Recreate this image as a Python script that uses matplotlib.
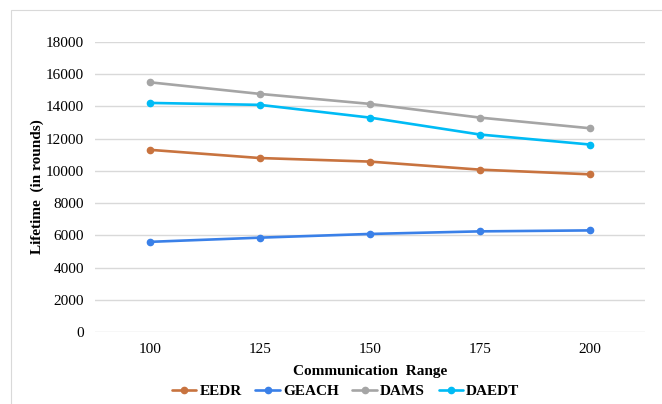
import matplotlib
matplotlib.use('Agg')
import matplotlib.pyplot as plt
from matplotlib.patches import Rectangle

ranges = ['100', '125', '150', '175', '200']
eedr = [11310, 10800, 10580, 10080, 9790]
geach = [5600, 5860, 6090, 6250, 6310]
dams = [15500, 14780, 14160, 13310, 12650]
daedt = [14220, 14100, 13310, 12260, 11640]

series = [
    ('EEDR', eedr, '#C8733F'),
    ('GEACH', geach, '#3A80E8'),
    ('DAMS', dams, '#A5A5A5'),
    ('DAEDT', daedt, '#00BBF5'),
]

plt.rcParams['font.family'] = ['Liberation Serif', 'DejaVu Serif']

fig = plt.figure(figsize=(6.62, 4.04), dpi=100)
ax = fig.add_axes([0.1435, 0.178, 0.8305, 0.718])

x = list(range(len(ranges)))
for name, vals, color in series:
    ax.plot(x, vals, color=color, linewidth=1.9, marker='o', markersize=4.5,
            label=name, solid_capstyle='round')

ax.set_xlim(-0.5, len(ranges) - 0.5)
ax.set_ylim(0, 18000)
ax.set_yticks(range(0, 18001, 2000))
ax.set_xticks(x)
ax.set_xticklabels(ranges)
ax.tick_params(length=0, labelsize=11, pad=8)
ax.grid(axis='y', color='#D9D9D9', linewidth=1.0)
ax.set_axisbelow(True)
for s in ax.spines.values():
    s.set_visible(False)

ax.set_xlabel('Communication  Range', fontsize=11, fontweight='bold', labelpad=6)
ax.set_ylabel('Lifetime  (in rounds)', fontsize=11, fontweight='bold', labelpad=1)

fig.legend(loc='center', bbox_to_anchor=(0.522, 0.032), ncol=4, frameon=False,
           prop={'weight': 'bold', 'size': 11},
           handlelength=1.6, handletextpad=0.2, columnspacing=0.9)

fig.patches.append(Rectangle((11 / 662, -0.1), 1.0, 1.0 - 10 / 404 + 0.1,
                             transform=fig.transFigure, fill=False,
                             edgecolor='#D9D9D9', linewidth=0.8))

fig.savefig('out.png', dpi=100)
